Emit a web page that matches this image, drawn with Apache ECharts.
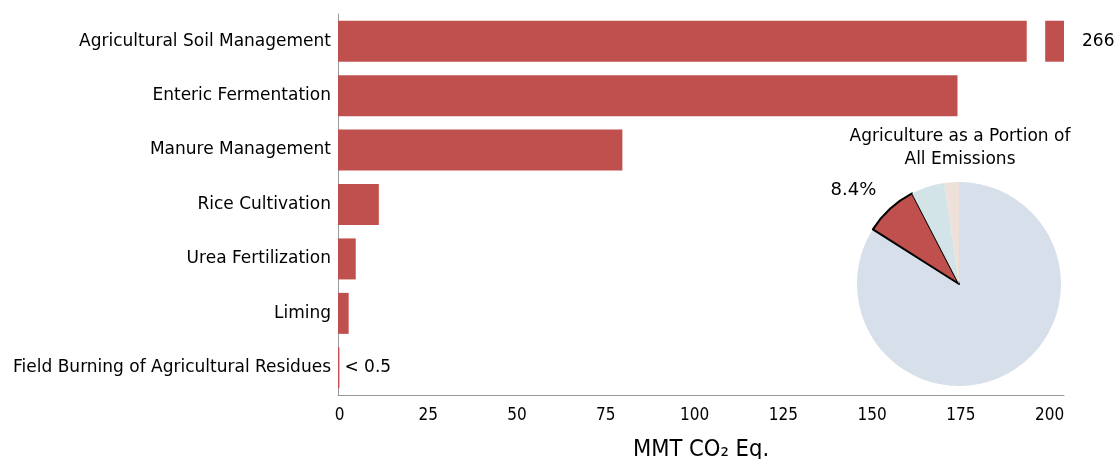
<!DOCTYPE html>
<html>
<head>
<meta charset="utf-8">
<script src="https://cdn.jsdelivr.net/npm/echarts@6/dist/echarts.min.js"></script>
<style>html,body{margin:0;padding:0;background:#fff;}#c{width:1115px;height:459px;}</style>
</head>
<body>
<div id="c"></div>
<script>
// ---- data ----
const categories = [
  'Agricultural Soil Management',
  'Enteric Fermentation',
  'Manure Management',
  'Rice Cultivation',
  'Urea Fertilization',
  'Liming',
  'Field Burning of Agricultural Residues'
];
const values = [266, 174.5, 80.1, 11.5, 5.0, 3.0, 0.4];
const valueLabels = ['266', '', '', '', '', '', '< 0.5'];
const xTicks = [0, 25, 50, 75, 100, 125, 150, 175, 200];

const pieNames = ['Energy', 'Agriculture', 'Industrial Processes', 'Waste'];
const pieValues = [84.0, 8.4, 5.3, 2.3];
const pieTitle = 'Agriculture as a Portion of\nAll Emissions';
const xAxisName = 'MMT CO\u2082 Eq.';

// axis break settings (visual only)
const axisMax = 204.5;
const breakStart = 194;
const breakEnd = 199.2;

const FONT = 'DejaVu Sans';
const FONT_C = 'DejaVu Sans Condensed';
const RED = '#C0504D';

const mainPart = values.map(v => v > axisMax ? breakStart : v);
const gapPart = values.map(v => v > axisMax ? breakEnd - breakStart : 0);
const tailPart = values.map(v => v > axisMax ? axisMax - breakEnd : 0);

const chart = echarts.init(document.getElementById('c'));
chart.setOption({
  animation: false,
  textStyle: { fontFamily: FONT },
  grid: {
    left: 338, right: 1115 - 338 - Math.round(axisMax * 3.55), top: 14, bottom: 64,
    containLabel: false, outerBoundsMode: 'none'
  },
  xAxis: {
    type: 'value', min: 0, max: axisMax, interval: 25,
    splitLine: { show: false },
    axisTick: { show: false },
    axisLine: { show: true, lineStyle: { color: '#999', width: 1 } },
    axisLabel: {
      color: '#000', fontSize: 17, fontFamily: FONT_C, margin: 12,
      padding: [0, 0, 0, 3],
      showMaxLabel: false,
      formatter: v => xTicks.indexOf(v) >= 0 ? String(v) : ''
    },
    name: xAxisName, nameLocation: 'middle', nameGap: 43,
    nameTextStyle: { color: '#000', fontSize: 23.5, fontFamily: FONT_C }
  },
  yAxis: {
    type: 'category', data: categories, inverse: true,
    axisTick: { show: false },
    axisLine: { show: true, lineStyle: { color: '#999', width: 1 } },
    axisLabel: { color: '#000', fontSize: 17, fontFamily: FONT, margin: 7 }
  },
  series: [
    {
      type: 'bar', stack: 'a', data: mainPart, barWidth: 41,
      itemStyle: { color: RED },
      label: {
        show: true, position: 'right', distance: 5,
        color: '#000', fontSize: 17, fontFamily: FONT,
        formatter: p => (values[p.dataIndex] > axisMax ? '' : valueLabels[p.dataIndex])
      }
    },
    {
      type: 'bar', stack: 'a', data: gapPart, barWidth: 41,
      itemStyle: { color: 'rgba(0,0,0,0)' }, silent: true
    },
    {
      type: 'bar', stack: 'a', data: tailPart, barWidth: 41,
      itemStyle: { color: RED },
      label: {
        show: true, position: 'right', distance: 18,
        color: '#000', fontSize: 17, fontFamily: FONT,
        formatter: p => (values[p.dataIndex] > axisMax ? valueLabels[p.dataIndex] : '')
      }
    },
    {
      type: 'pie', center: [959, 284], radius: 102, startAngle: 90, clockwise: true,
      silent: true,
      label: { show: false },
      labelLine: { show: false },
      data: pieNames.map((n, i) => {
        const d = { name: n, value: pieValues[i] };
        if (n === 'Agriculture') {
          d.itemStyle = { color: RED, borderColor: '#000', borderWidth: 2 };
          d.label = {
            show: true, position: 'outside', color: '#000', fontSize: 18, fontFamily: FONT,
            formatter: p => p.value.toFixed(1) + '%', distanceToLabelLine: -3
          };
          d.labelLine = { show: false, length: 25, length2: 0 };
        } else {
          d.itemStyle = { color: ['#D7DFEA', RED, '#D3E4E8', '#EEE1DA'][i] };
        }
        return d;
      })
    }
  ],
  title: {
    text: pieTitle, left: 955, top: 120, textAlign: 'center',
    textStyle: { color: '#000', fontSize: 17, fontWeight: 'normal', fontFamily: FONT, lineHeight: 23 }
  }
});
</script>
</body>
</html>
